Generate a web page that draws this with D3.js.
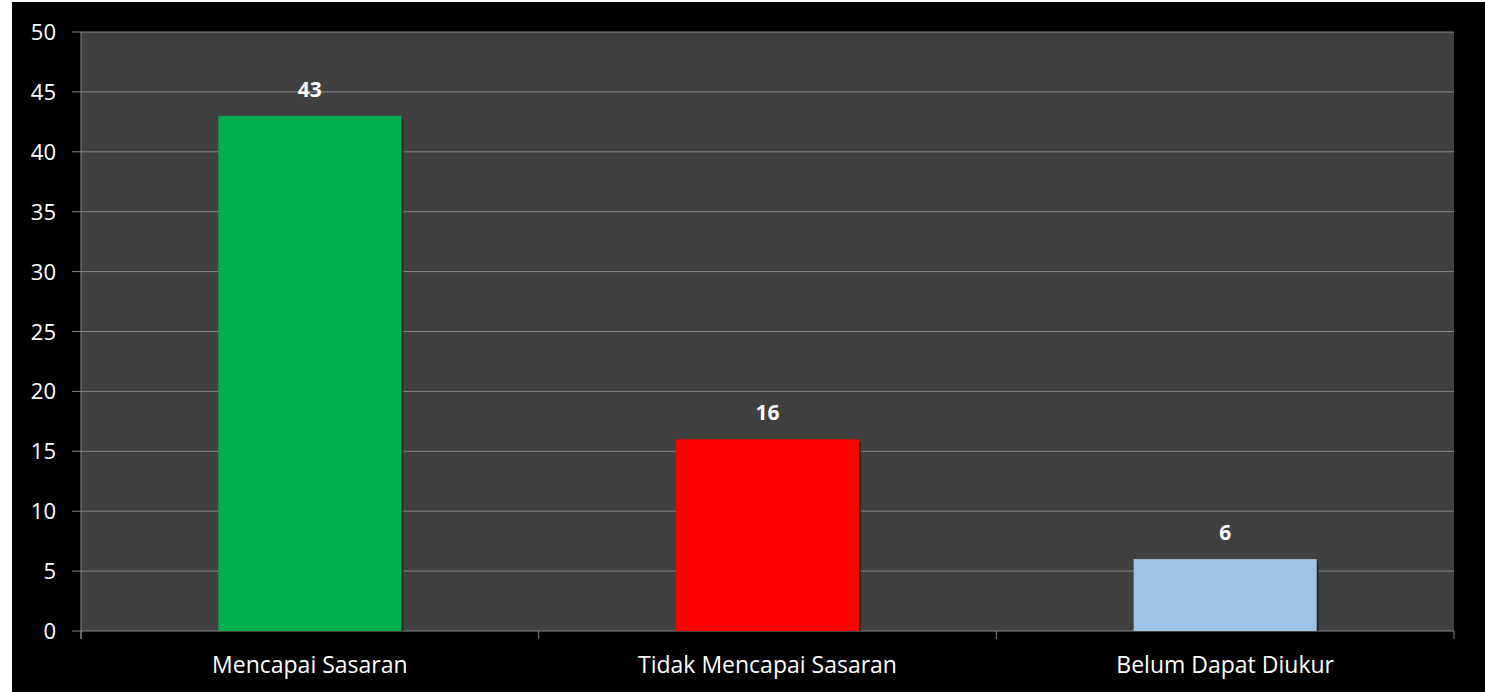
<!DOCTYPE html>
<html lang="id">
<head>
    <meta charset="UTF-8">
    <title>Capaian Sasaran</title>
    <script src="https://d3js.org/d3.v7.min.js"></script>
    <style>
        body { margin: 0; background: #fff; }
        text { font-family: "Open Sans", "Noto Sans", sans-serif; }
    </style>
</head>
<body>
    <div id="chart"></div>
    <script>
        // data
        const categories = ["Mencapai Sasaran", "Tidak Mencapai Sasaran", "Belum Dapat Diukur"];
        const values = [43, 16, 6];
        const colors = ["#00B050", "#FF0000", "#9DC3E6"];
        const yTicks = [0, 5, 10, 15, 20, 25, 30, 35, 40, 45, 50];

        const W = 1485, H = 692;
        const plotL = 81, plotR = 1454, plotT = 32, plotB = 631;

        const svg = d3.select("#chart").append("svg")
            .attr("width", W).attr("height", H);

        svg.append("rect").attr("x", 12).attr("y", 2)
            .attr("width", W - 12).attr("height", H - 2).attr("fill", "#000");

        svg.append("rect").attr("x", plotL).attr("y", plotT)
            .attr("width", plotR - plotL).attr("height", plotB - plotT).attr("fill", "#404040");

        const x = d3.scaleBand().domain(categories).range([plotL, plotR]).padding(0);
        const y = d3.scaleLinear().domain([0, 50]).range([plotB, plotT]);

        // gridlines
        svg.append("g").selectAll("line").data(yTicks).join("line")
            .attr("x1", plotL - 9).attr("x2", plotR)
            .attr("y1", d => y(d)).attr("y2", d => y(d))
            .attr("stroke", "#858585").attr("stroke-width", 1);

        // y labels
        svg.append("g").selectAll("text").data(yTicks).join("text")
            .attr("x", 56).attr("y", d => y(d) + 8)
            .attr("text-anchor", "end").attr("fill", "#fff").attr("font-size", 22)
            .text(d => d);

        // left axis line
        svg.append("line").attr("x1", plotL).attr("x2", plotL)
            .attr("y1", plotT).attr("y2", plotB + 8).attr("stroke", "#858585");

        // bottom ticks
        const xt = categories.map(c => x(c)).concat([plotR]);
        svg.append("g").selectAll("line").data(xt).join("line")
            .attr("x1", d => d).attr("x2", d => d)
            .attr("y1", plotB).attr("y2", plotB + 8).attr("stroke", "#858585");

        const bw = x.bandwidth() * 0.4;

        // shadow
        svg.append("g").selectAll("rect").data(values).join("rect")
            .attr("x", (d, i) => x(categories[i]) + (x.bandwidth() - bw) / 2 + 2)
            .attr("y", d => y(d) + 2)
            .attr("width", bw).attr("height", d => plotB - y(d) - 2)
            .attr("fill", "#2a2a2a");

        svg.append("g").selectAll("rect.bar").data(values).join("rect")
            .attr("class", "bar")
            .attr("x", (d, i) => x(categories[i]) + (x.bandwidth() - bw) / 2)
            .attr("y", d => y(d))
            .attr("width", bw).attr("height", d => plotB - y(d))
            .attr("fill", (d, i) => colors[i]);

        // value labels
        svg.append("g").selectAll("text").data(values).join("text")
            .attr("x", (d, i) => x(categories[i]) + x.bandwidth() / 2)
            .attr("y", d => y(d) - 19)
            .attr("text-anchor", "middle").attr("fill", "#fff")
            .attr("font-size", 21).attr("font-weight", "bold")
            .text(d => d);

        // category labels
        svg.append("g").selectAll("text").data(categories).join("text")
            .attr("x", d => x(d) + x.bandwidth() / 2)
            .attr("y", 673)
            .attr("text-anchor", "middle").attr("fill", "#fff").attr("font-size", 23)
            .text(d => d);
    </script>
</body>
</html>
